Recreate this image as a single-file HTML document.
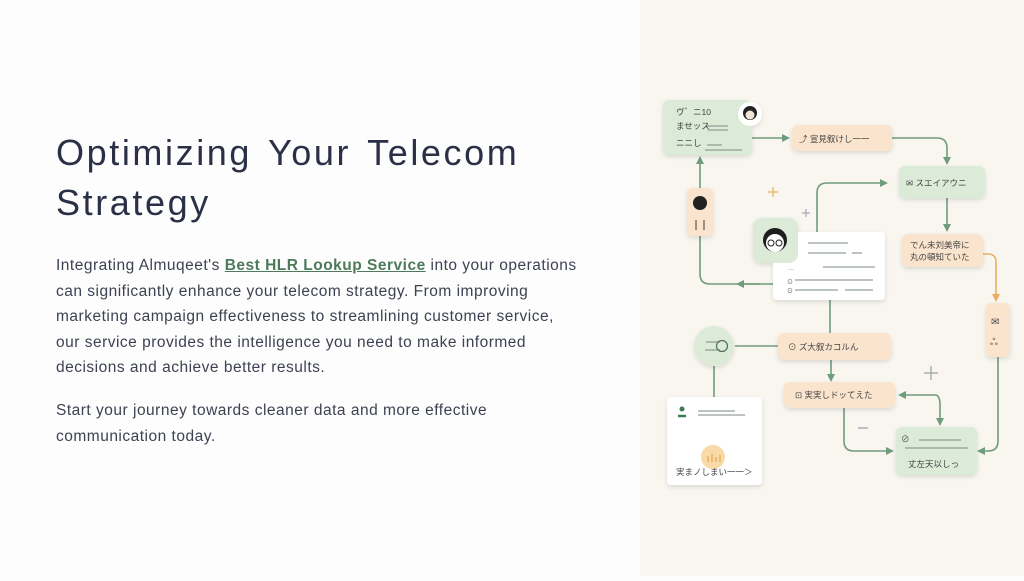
<!DOCTYPE html>
<html><head><meta charset="utf-8"><style>
html,body{margin:0;padding:0;width:1024px;height:576px;overflow:hidden;background:#fdfdfd;}
.left{position:absolute;left:0;top:0;width:640px;height:576px;background:#fdfdfd;}
.right{position:absolute;left:640px;top:0;width:384px;height:576px;background:#f8f6ef;}
h1{position:absolute;left:56px;top:128px;margin:0;font-family:"Liberation Sans",sans-serif;font-weight:400;font-size:36px;line-height:50px;color:#2b3046;letter-spacing:2.6px;word-spacing:4px;white-space:nowrap;}
.p{position:absolute;left:56px;font-family:"Liberation Sans",sans-serif;font-size:15.5px;line-height:25.5px;color:#3d4252;width:580px;letter-spacing:0.5px;white-space:nowrap;}
a{color:#4c7a5a;font-weight:bold;text-decoration:underline;}
svg text{font-family:"Liberation Sans","Noto Sans CJK JP",sans-serif;}
</style></head><body>
<div class="left">
<h1>Optimizing Your Telecom<br>Strategy</h1>
<div class="p" style="top:253px">Integrating Almuqeet's <a>Best HLR Lookup Service</a> into your operations<br>can significantly enhance your telecom strategy. From improving<br>marketing campaign effectiveness to streamlining customer service,<br>our service provides the intelligence you need to make informed<br>decisions and achieve better results.</div>
<div class="p" style="top:398px">Start your journey towards cleaner data and more effective<br>communication today.</div>
</div>
<div class="right">
<svg width="384" height="576" viewBox="640 0 384 576">
<defs>
<marker id="ag" markerWidth="8" markerHeight="8" refX="6" refY="4" orient="auto" markerUnits="userSpaceOnUse"><path d="M0,0 L8,4 L0,8 z" fill="#6f9c7b"/></marker>
<marker id="ao" markerWidth="8" markerHeight="8" refX="6" refY="4" orient="auto" markerUnits="userSpaceOnUse"><path d="M0,0 L8,4 L0,8 z" fill="#eab060"/></marker>
<filter id="sh" x="-20%" y="-20%" width="140%" height="150%"><feDropShadow dx="0" dy="2" stdDeviation="2" flood-color="#000" flood-opacity="0.12"/></filter>
</defs>
<g fill="none" stroke="#6f9c7b" stroke-width="1.6">
<path d="M752 138 H788" marker-end="url(#ag)"/>
<path d="M892 138 H937 Q947 138 947 148 V163" marker-end="url(#ag)"/>
<path d="M947 198 V230" marker-end="url(#ag)"/>
<path d="M700 188 V158" marker-end="url(#ag)"/>
<path d="M700 236 V274 Q700 284 710 284 H775"/>
<path d="M760 284 H738" marker-end="url(#ag)"/>
<path d="M817 232 V193 Q817 183 827 183 H886" marker-end="url(#ag)"/>
<path d="M830 300 V333"/>
<path d="M735 346 H778"/>
<path d="M714 366 V397"/>
<path d="M831 360 V380" marker-end="url(#ag)"/>
<path d="M935 395 Q940 395 940 405 V424" marker-end="url(#ag)"/>
<path d="M935 395 H900" marker-end="url(#ag)"/>
<path d="M844 408 V441 Q844 451 854 451 H892" marker-end="url(#ag)"/>
<path d="M998 357 V441 Q998 451 988 451 H979" marker-end="url(#ag)"/>
</g>
<path d="M983 254 H988 Q996 254 996 262 V300" fill="none" stroke="#eab060" stroke-width="1.6" marker-end="url(#ao)"/>
<g filter="url(#sh)">
<rect x="663" y="100" width="89" height="55" rx="6" fill="#dcebd8"/>
<rect x="792" y="125" width="100" height="26" rx="6" fill="#fbe4cd"/>
<rect x="899" y="166" width="86" height="32" rx="6" fill="#dcebd8"/>
<rect x="902" y="234" width="81" height="33" rx="6" fill="#fbe4cd"/>
<rect x="986" y="303" width="24" height="54" rx="5" fill="#fbe4cd"/>
<rect x="896" y="427" width="81" height="48" rx="6" fill="#dcebd8"/>
<rect x="687" y="188" width="26" height="48" rx="5" fill="#fbe4cd"/>
<rect x="773" y="232" width="112" height="68" rx="4" fill="#ffffff"/>
<rect x="753" y="218" width="45" height="45" rx="9" fill="#dcebd8"/>
<rect x="778" y="333" width="113" height="27" rx="6" fill="#fbe4cd"/>
<circle cx="714" cy="346" r="20" fill="#dcebd8"/>
<rect x="667" y="397" width="95" height="88" rx="4" fill="#ffffff"/>
<rect x="784" y="382" width="111" height="26" rx="6" fill="#fbe4cd"/>
<circle cx="750" cy="114" r="12" fill="#ffffff"/>
</g>
<circle cx="750" cy="113" r="7" fill="#222"/><circle cx="750" cy="115" r="4.5" fill="#f3e6d6"/>
<circle cx="700" cy="203" r="7" fill="#222"/><path d="M696 220 V230 M704 220 V230" stroke="#555" stroke-width="1.2"/>
<circle cx="775" cy="240" r="12" fill="#1e1e1e"/><circle cx="775" cy="243" r="9" fill="#fff"/>
<circle cx="771" cy="243" r="3" fill="none" stroke="#222" stroke-width="1"/><circle cx="779" cy="243" r="3" fill="none" stroke="#222" stroke-width="1"/>
<circle cx="713" cy="457" r="12" fill="#f8d9a8"/><path d="M708 462 v-6 M712 462 v-8 M716 462 v-5 M720 462 v-7" stroke="#eab060" stroke-width="1.5"/>
<circle cx="682" cy="411" r="6" fill="#fff"/><circle cx="682" cy="409" r="2.5" fill="#3d7a54"/><path d="M678 416 h8" stroke="#3d7a54" stroke-width="2.5"/>
<g stroke="#7a8a80" stroke-width="0.9">
<path d="M706 126 H728 M707 145 H722 M705 150 H742 M708 130 H728"/>
<path d="M808 243 H848 M808 253 H846 M852 253 H862 M823 267 H875 M795 280 H873 M795 290 H838 M845 290 H873"/>
<path d="M698 411 H735 M698 415 H745"/>
<path d="M919 440 H961 M905 448 H968"/>
<path d="M706 342 H720 M705 350 H720"/>
</g>
<circle cx="722" cy="346" r="5.5" fill="none" stroke="#4e6e58" stroke-width="1.2"/>
<g font-size="8.5" fill="#444">
<text x="676" y="115">ヴ゛ニ10</text>
<text x="676" y="129">ませッス</text>
<text x="676" y="146">ニニし</text>
<text x="799" y="142">⤴ 宣見叙けし一一</text>
<text x="906" y="186">✉ スエイアウニ</text>
<text x="910" y="248">でん未刘美帝に</text>
<text x="910" y="260">丸の頓知ていた</text>
<text x="991" y="325" font-size="10">✉</text>
<text x="990" y="345" font-size="10">ஃ</text>
<text x="788" y="350">⊙ ズ大叙カコルん</text>
<text x="795" y="398">⊡ 実実しドッてえた</text>
<text x="901" y="442">⊘</text>
<text x="908" y="467">丈左天以しっ</text>
<text x="676" y="475">実まノしまい一一＞</text>
<text x="788" y="271" font-size="6">···</text>
<text x="787" y="284" font-size="6">⊙</text>
<text x="787" y="293" font-size="6">⊙</text>
</g>
<g stroke-width="1.2" fill="none">
<path d="M773 187 v10 M768 192 h10" stroke="#eab060"/>
<path d="M931 366 v14 M924 373 h14" stroke="#9aa3a0"/>
<path d="M806 209 v8 M802 213 h8" stroke="#aab" />
<path d="M858 428 h10" stroke="#99a"/>
</g>
</svg>
</div>
</body></html>
